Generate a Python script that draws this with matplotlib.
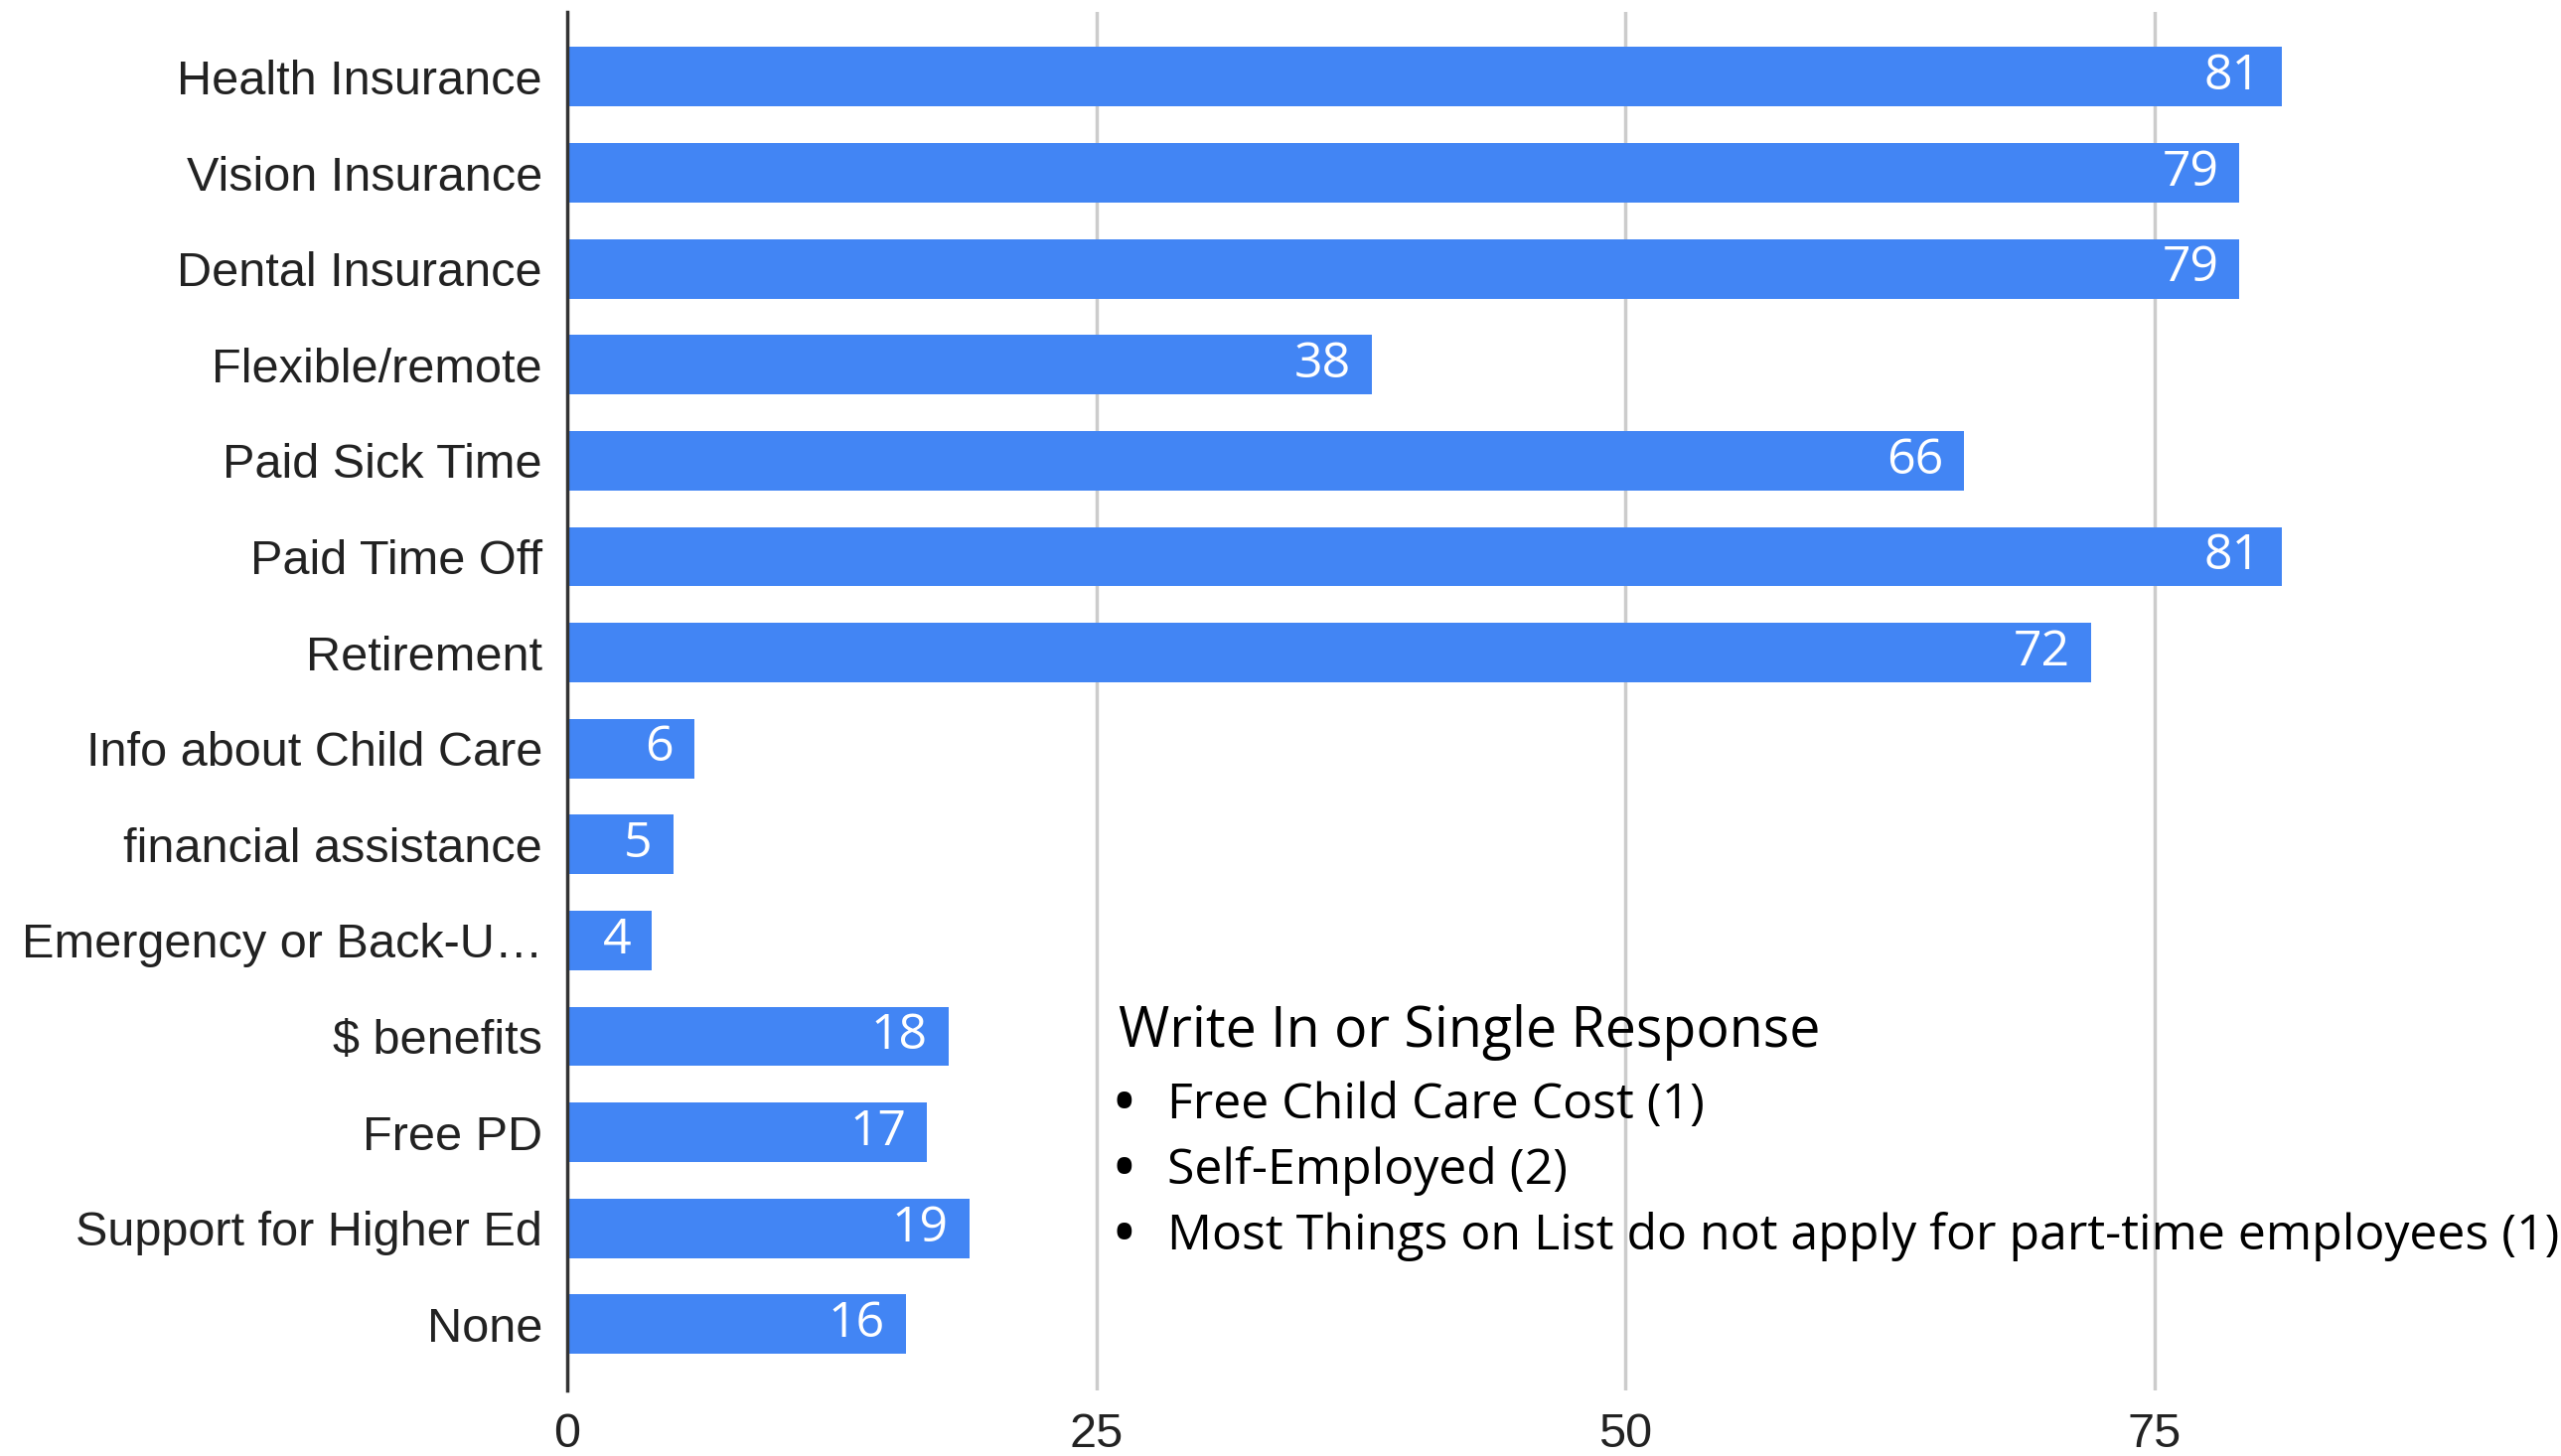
#!/usr/bin/env python3
# -*- coding: utf-8 -*-
"""
Benefits offered - horizontal bar chart
"""

import matplotlib
matplotlib.use('Agg')
import matplotlib.pyplot as plt

# Data
categories = [
    'Health Insurance', 'Vision Insurance', 'Dental Insurance',
    'Flexible/remote', 'Paid Sick Time', 'Paid Time Off', 'Retirement',
    'Info about Child Care', 'financial assistance', 'Emergency or Back-U\u2026',
    '$ benefits', 'Free PD', 'Support for Higher Ed', 'None',
]
counts = [81, 79, 79, 38, 66, 81, 72, 6, 5, 4, 18, 17, 19, 16]
x_ticks = [0, 25, 50, 75]

note_title = 'Write In or Single Response'
note_items = [
    'Free Child Care Cost (1)',
    'Self-Employed (2)',
    'Most Things on List do not apply for part-time employees (1)',
]

BAR_COLOR = '#4285F4'
TEXT_COLOR = '#222222'

fig = plt.figure(figsize=(25.78, 14.66), dpi=100)
ax = fig.add_axes([0.2215, 0.045, 0.7785, 0.947])

ypos = list(range(len(categories)))
ax.barh(ypos, counts, height=0.62, color=BAR_COLOR, zorder=3)

for y, v in zip(ypos, counts):
    ax.annotate(str(v), (v, y), xytext=(-15, 0), textcoords='offset points',
                ha='right', va='center', color='white', fontsize=36,
                family='Open Sans', zorder=4)

ax.set_ylim(len(categories) - 1 + 0.69, -0.68)
ax.set_xlim(0, 94.2)
ax.set_yticks(ypos)
ax.set_yticklabels(categories, fontsize=35, family='Liberation Sans', color=TEXT_COLOR)
ax.set_xticks(x_ticks)
ax.set_xticklabels([str(t) for t in x_ticks], fontsize=35,
                   family='Liberation Sans', color=TEXT_COLOR)
ax.tick_params(axis='y', length=0, pad=18)
ax.tick_params(axis='x', length=0, pad=16)

ax.grid(axis='x', color='#cccccc', linewidth=2.5, zorder=0)
for side in ('top', 'right', 'bottom'):
    ax.spines[side].set_visible(False)
ax.spines['left'].set_color('#333333')
ax.spines['left'].set_linewidth(2.5)
ax.spines['left'].set_zorder(5)

# Write-in note
fig.text(0.4368, 1 - 1040 / 1466, note_title, fontsize=40, family='Open Sans',
         color='black', ha='left', va='center')
for i, item in enumerate(note_items):
    yy = 1 - (1113 + 66 * i) / 1466
    fig.text(0.4390, yy, '\u2022', fontsize=38, fontweight='bold',
             family='Open Sans', color='black', ha='center', va='center')
    fig.text(0.4558, yy, item, fontsize=36, family='Open Sans',
             color='black', ha='left', va='center')

fig.savefig('out.png', dpi=100)
plt.close(fig)

# EOF
